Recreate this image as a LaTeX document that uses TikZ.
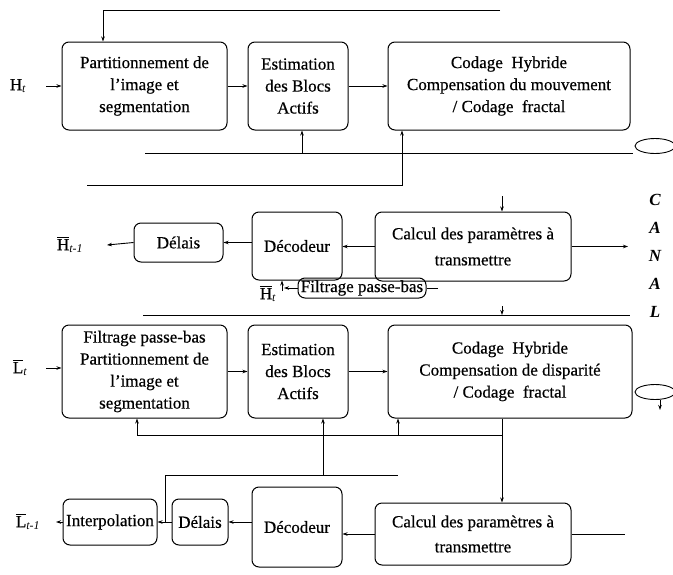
\documentclass[tikz,border=0pt]{standalone}
\usepackage{fontspec}
\setmainfont{Liberation Serif}[UprightFeatures={FakeBold=0.5}]
\usetikzlibrary{arrows.meta,shapes.geometric}
\newcommand\boxfont{\fontsize{17}{22}\selectfont}
% a letter with a bar over it, followed by a small italic index
\newcommand\barsig[2]{$\overline{\mbox{#1}}$\textsubscript{\itshape #2}}
\begin{document}
\begin{tikzpicture}[x=1pt,y=-1pt,
  box/.style={draw, rounded corners=7pt, line width=1pt, align=center, inner sep=2pt, font=\boxfont},
  lbl/.style={font=\boxfont, inner sep=1pt},
  ln/.style={line width=0.9pt},
  arr/.style={ln, -{Stealth[length=5pt,width=3.5pt]}},
  chan/.style={draw, ellipse, line width=0.9pt, minimum width=40pt, minimum height=15pt, inner sep=0pt}]
\useasboundingbox (0,0) rectangle (673,574);

% ---------- coder for the H view ----------
\node[box, minimum width=165pt, minimum height=88pt] (p1) at (144.5,86) {Partitionnement de\\l'image et\\segmentation};
\node[box, minimum width=100pt, minimum height=88pt] (e1) at (298,86) {Estimation\\des Blocs\\Actifs};
\node[box, minimum width=242pt, minimum height=88pt] (c1) at (509,86) {Codage\ \ Hybride\\Compensation du mouvement\\/ Codage\ \ fractal};
\node[lbl] (H) at (18,86) {H\textsubscript{\itshape t}};
\coordinate (hin) at (46,86);
\draw[arr] (hin) -- (hin -| p1.west);
\draw[arr] (p1.east) -- (e1.west);
\draw[arr] (e1.east) -- (c1.west);

\coordinate (t1) at (103,10);
\coordinate (t2) at (500,10);
\draw[arr] (t2) -- (t1) -- (t1 |- p1.north);

\node[chan] (ch1) at (655,146) {};
\coordinate (a1) at (145,153);
\coordinate (a2) at (633,153);
\draw[ln] (a1) -- (a2);
\coordinate (a3) at (302,153);
\draw[arr] (a3) -- (a3 |- e1.south);
\coordinate (b1) at (87,185);
\coordinate (b2) at (402,185);
\draw[arr] (b1) -- (b2) -- (b2 |- c1.south);

% ---------- decoder for the H view ----------
\node[box, minimum width=89pt, minimum height=39pt] (d1) at (178.5,242.5) {Délais};
\node[box, minimum width=90pt, minimum height=68pt] (dc1) at (297,246) {Décodeur};
\node[box, minimum width=196pt, minimum height=69pt] (cal1) at (473,246.5) {Calcul des paramètres à\\[4pt]transmettre};
\node[lbl] (Hm) at (70,245) {\barsig{H}{t-1}};
\coordinate (ho1) at (107,245);
\draw[arr] (cal1.west) -- (cal1.west -| dc1.east);
\draw[arr] (dc1.west |- d1.east) -- (d1.east);
\draw[arr] (d1.west) -- (ho1);
\coordinate (s1) at (502,196);
\draw[arr] (s1) -- (s1 |- cal1.north);
\coordinate (ca1) at (628,246.5);
\draw[arr] (cal1.east) -- (ca1);

\node[font=\fontsize{17}{28}\selectfont\bfseries\itshape, align=center] (canal) at (655,256) {C\\A\\N\\A\\L};

\node[box, minimum width=128pt, minimum height=20pt, inner ysep=1pt] (f2) at (362,288) {Filtrage passe-bas};
\node[lbl] (Ht) at (268,294) {\barsig{H}{t}};
\coordinate (hto) at (284,288);
\draw[arr] (f2.west) -- (hto);
\coordinate (ht2) at (282,291);
\draw[arr] (ht2) -- (ht2 |- dc1.south);
\coordinate (f2r) at (438,288);
\draw[ln] (f2r) -- (f2.east);

% ---------- coder for the L view ----------
\coordinate (r1) at (143,315);
\coordinate (r2) at (630,315);
\draw[ln] (r1) -- (r2);
\coordinate (r3) at (502,306);
\draw[arr] (r3) -- (r3 |- r1);

\node[box, minimum width=165pt, minimum height=93pt] (p3) at (144.5,371.5) {Filtrage passe-bas\\Partitionnement de\\l'image et\\segmentation};
\node[box, minimum width=100pt, minimum height=93pt] (e3) at (298,371.5) {Estimation\\des Blocs\\Actifs};
\node[box, minimum width=244pt, minimum height=93pt] (c3) at (510,371.5) {Codage\ \ Hybride\\Compensation de disparité\\/ Codage\ \ fractal};
\node[lbl] (L) at (20,368) {\barsig{L}{t}};
\coordinate (lin) at (46,368);
\draw[arr] (lin) -- (lin -| p3.west);
\draw[arr] (p3.east |- e3.west) -- (e3.west);
\draw[arr] (e3.east) -- (c3.west);

\node[chan] (ch3) at (655,392) {};
\coordinate (ch3b) at (660,410);
\draw[arr] (ch3.south -| ch3b) -- (ch3b);

\coordinate (m1) at (137,435);
\coordinate (m2) at (502,435);
\draw[ln] (m1) -- (m2);
\draw[arr] (m1) -- (m1 |- p3.south);
\coordinate (m3) at (323,435);
\draw[arr] (m3) -- (m3 |- e3.south);
\coordinate (m4) at (398,435);
\draw[arr] (m4) -- (m4 |- c3.south);

\coordinate (n1) at (165,475);
\coordinate (n2) at (398,475);
\coordinate (n3) at (323,475);
\draw[ln] (n1) -- (n2);
\draw[ln] (n3) -- (m3);

% ---------- decoder for the L view ----------
\node[box, minimum width=94pt, minimum height=46pt] (i4) at (110,522) {Interpolation};
\node[box, minimum width=56pt, minimum height=46pt] (d4) at (200,522) {Délais};
\node[box, minimum width=90pt, minimum height=80pt] (dc4) at (297,527) {Décodeur};
\node[box, minimum width=196pt, minimum height=62pt] (cal4) at (473,534) {Calcul des paramètres à\\[3pt]transmettre};
\node[lbl] (Lm) at (28,522) {\barsig{L}{t-1}};
\coordinate (lo) at (56,522);
\draw[arr] (i4.west) -- (lo);
\draw[arr] (d4.west) -- (i4.east);
\draw[arr] (dc4.west |- d4.east) -- (d4.east);
\draw[arr] (cal4.west) -- (cal4.west -| dc4.east);
\coordinate (ca4) at (625,534);
\draw[ln] (cal4.east) -- (ca4);
\draw[ln] (n1) -- (n1 |- d4.east);
\draw[arr] (m2 |- c3.south) -- (m2 |- cal4.north);
\end{tikzpicture}
\end{document}
